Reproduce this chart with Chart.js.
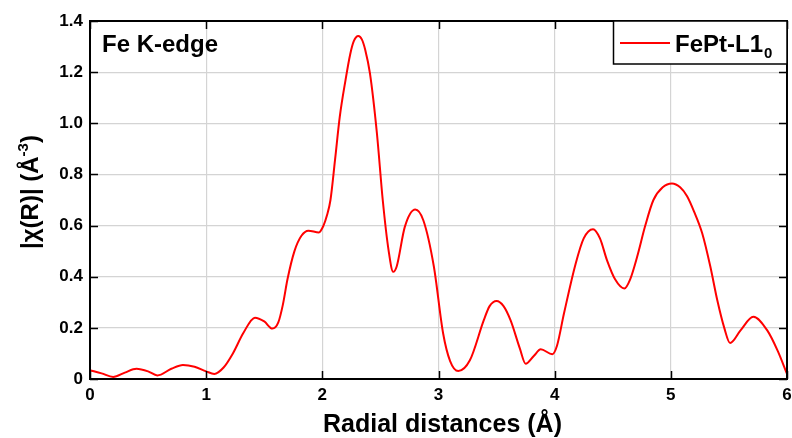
<!DOCTYPE html>
<html>
<head>
<meta charset="utf-8">
<script src="https://cdn.jsdelivr.net/npm/chart.js@4"></script>
<style>
  html, body { margin: 0; padding: 0; background: #fff; }
  #wrap { width: 792px; height: 438px; }
</style>
</head>
<body>
<div id="wrap"><canvas id="chartFT"></canvas></div>
<script>
// Fourier-transformed EXAFS magnitude, Fe K-edge, FePt L1_0
const rValues = [
    0.00, 0.10, 0.20, 0.30, 0.40, 0.50, 0.58, 0.70, 0.80, 0.90,
    1.00, 1.07, 1.15, 1.23, 1.32, 1.42, 1.50, 1.57, 1.62, 1.66,
    1.70, 1.76, 1.82, 1.88, 1.97, 2.01, 2.04, 2.07, 2.11, 2.15,
    2.20, 2.24, 2.27, 2.31, 2.34, 2.37, 2.41, 2.47, 2.52, 2.57,
    2.61, 2.64, 2.71, 2.80, 2.87, 2.96, 3.04, 3.10, 3.17, 3.27,
    3.39, 3.44, 3.50, 3.56, 3.62, 3.70, 3.75, 3.82, 3.88, 3.98,
    4.02, 4.08, 4.18, 4.25, 4.33, 4.39, 4.45, 4.52, 4.60, 4.65,
    4.71, 4.78, 4.85, 4.93, 5.01, 5.08, 5.14, 5.20, 5.27, 5.34,
    5.40, 5.46, 5.51, 5.60, 5.71, 5.83, 5.92, 6.00
];
const chiValues = [
    0.034, 0.022, 0.008, 0.025, 0.040, 0.030, 0.014, 0.040, 0.055, 0.048,
    0.030, 0.020, 0.045, 0.100, 0.180, 0.240, 0.225, 0.197, 0.220, 0.290,
    0.390, 0.500, 0.560, 0.580, 0.573, 0.600, 0.640, 0.700, 0.860, 1.025,
    1.170, 1.270, 1.320, 1.341, 1.328, 1.286, 1.195, 0.960, 0.700, 0.504,
    0.419, 0.440, 0.595, 0.663, 0.620, 0.440, 0.178, 0.070, 0.031, 0.073,
    0.230, 0.285, 0.305, 0.285, 0.230, 0.120, 0.060, 0.090, 0.116, 0.097,
    0.130, 0.256, 0.450, 0.550, 0.586, 0.550, 0.465, 0.390, 0.354, 0.390,
    0.478, 0.600, 0.700, 0.750, 0.765, 0.750, 0.715, 0.655, 0.570, 0.440,
    0.308, 0.200, 0.141, 0.190, 0.243, 0.190, 0.110, 0.020
];
const xTicks = [0, 1, 2, 3, 4, 5, 6];
const yTicks = [0, 0.2, 0.4, 0.6, 0.8, 1.0, 1.2, 1.4];

const seriesName = 'FePt-L1';
const seriesSub = '0';
const panelLabel = 'Fe K-edge';
const lineColor = '#ff0000';
const FONT = '"Liberation Sans", Arial, sans-serif';

// frame, inward ticks, axis titles, panel label and legend box
const decorations = {
    id: 'decorations',
    afterDraw(chart) {
        const ctx = chart.ctx;
        const a = chart.chartArea;
        const xs = chart.scales.x, ys = chart.scales.y;
        ctx.save();

        // inward tick marks on all four sides
        ctx.strokeStyle = '#000';
        ctx.lineWidth = 1.5;
        const tl = 8;
        ctx.beginPath();
        xTicks.forEach(v => {
            const px = Math.round(xs.getPixelForValue(v)) + 0.5;
            ctx.moveTo(px, a.bottom); ctx.lineTo(px, a.bottom - tl);
            ctx.moveTo(px, a.top); ctx.lineTo(px, a.top + tl);
        });
        yTicks.forEach(v => {
            const py = Math.round(ys.getPixelForValue(v)) + 0.5;
            ctx.moveTo(a.left, py); ctx.lineTo(a.left + tl, py);
            ctx.moveTo(a.right, py); ctx.lineTo(a.right - tl, py);
        });
        ctx.stroke();

        // frame
        ctx.lineWidth = 2;
        ctx.strokeRect(a.left, a.top, a.right - a.left, a.bottom - a.top);

        // x title
        ctx.fillStyle = '#000';
        ctx.font = 'bold 25px ' + FONT;
        ctx.textAlign = 'center';
        ctx.textBaseline = 'alphabetic';
        ctx.fillText('Radial distances (Å)', (a.left + a.right) / 2 + 4, 432);

        // y title, rotated, with superscript
        ctx.save();
        ctx.translate(38, (a.top + a.bottom) / 2 - 8);
        ctx.rotate(-Math.PI / 2);
        const mainA = '|χ(R)| (Å', sup = '-3', mainB = ')';
        ctx.font = 'bold 24px ' + FONT;
        const wA = ctx.measureText(mainA).width;
        const wB = ctx.measureText(mainB).width;
        ctx.font = 'bold 15px ' + FONT;
        const wS = ctx.measureText(sup).width;
        let x0 = -(wA + wS + wB) / 2;
        ctx.textAlign = 'left';
        ctx.font = 'bold 24px ' + FONT;
        ctx.fillText(mainA, x0, 0);
        ctx.font = 'bold 15px ' + FONT;
        ctx.fillText(sup, x0 + wA, -10);
        ctx.font = 'bold 24px ' + FONT;
        ctx.fillText(mainB, x0 + wA + wS, 0);
        ctx.restore();

        // panel label
        ctx.textAlign = 'left';
        ctx.font = 'bold 24px ' + FONT;
        ctx.fillText(panelLabel, a.left + 12, 52);

        // legend box
        const lx = 613, ly = a.top, lw = a.right - lx, lh = 43;
        ctx.fillStyle = '#fff';
        ctx.fillRect(lx, ly, lw, lh);
        ctx.strokeStyle = '#000';
        ctx.lineWidth = 1.5;
        ctx.strokeRect(lx + 0.5, ly, lw - 0.5, lh);
        ctx.strokeStyle = lineColor;
        ctx.lineWidth = 2;
        ctx.beginPath();
        ctx.moveTo(620, 43); ctx.lineTo(670, 43);
        ctx.stroke();
        ctx.fillStyle = '#000';
        ctx.font = 'bold 24px ' + FONT;
        ctx.fillText(seriesName, 675, 52);
        const wN = ctx.measureText(seriesName).width;
        ctx.font = 'bold 15px ' + FONT;
        ctx.fillText(seriesSub, 675 + wN + 1, 58);

        ctx.restore();
    }
};

new Chart(document.getElementById('chartFT'), {
    type: 'scatter',
    data: {
        datasets: [{
            label: seriesName + seriesSub,
            data: rValues.map((r, i) => ({ x: r, y: chiValues[i] })),
            showLine: true,
            borderColor: lineColor,
            borderWidth: 2,
            pointRadius: 0,
            cubicInterpolationMode: 'monotone',
            fill: false
        }]
    },
    options: {
        responsive: true,
        maintainAspectRatio: false,
        animation: false,
        layout: { padding: { top: 21, right: 5, left: 0, bottom: 0 } },
        plugins: {
            legend: { display: false },
            tooltip: { enabled: false }
        },
        scales: {
            x: {
                type: 'linear',
                min: 0,
                max: 6,
                afterBuildTicks: s => { s.ticks = xTicks.map(v => ({ value: v })); },
                // fixed height, no extra room for the end labels
                afterFit: s => { s.height = 59; s.paddingLeft = 0; s.paddingRight = 0; },
                grid: { color: '#d4d4d4', lineWidth: 1.2, drawTicks: false },
                border: { display: false },
                ticks: {
                    padding: 6,
                    color: '#000',
                    font: { family: FONT, size: 17, weight: 'bold' },
                    callback: v => String(v)
                }
            },
            y: {
                type: 'linear',
                min: 0,
                max: 1.4,
                afterBuildTicks: s => { s.ticks = yTicks.map(v => ({ value: v })); },
                afterFit: s => { s.width = 90; s.paddingTop = 0; s.paddingBottom = 0; },
                grid: { color: '#d4d4d4', lineWidth: 1.2, drawTicks: false },
                border: { display: false },
                ticks: {
                    padding: 7,
                    color: '#000',
                    font: { family: FONT, size: 17, weight: 'bold' },
                    callback: v => v === 0 ? '0' : v.toFixed(1)
                }
            }
        }
    },
    plugins: [decorations]
});
</script>
</body>
</html>
